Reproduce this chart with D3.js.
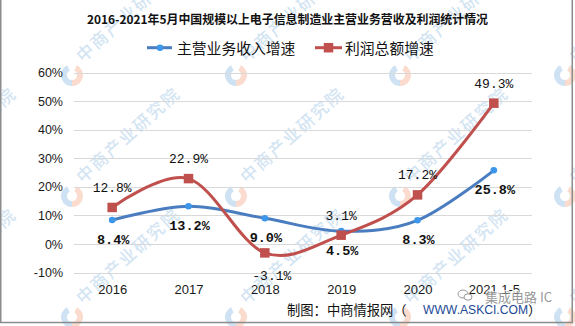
<!DOCTYPE html>
<html>
<head>
<meta charset="utf-8">
<script src="https://cdn.jsdelivr.net/npm/d3@7/dist/d3.min.js"></script>
<style>
  html, body { margin: 0; padding: 0; background: #fff; }
  svg { display: block; }
</style>
</head>
<body>
<svg id="chart" width="575" height="326"></svg>
<script>
// Years on the category axis
const categories = ["2016", "2017", "2018", "2019", "2020", "2021.1-5"];
// Growth of main business revenue (%)
const revenueGrowth = [8.4, 13.2, 9.0, 4.5, 8.3, 25.8];
// Growth of total profit (%)
const profitGrowth = [12.8, 22.9, -3.1, 3.1, 17.2, 49.3];
// Value-axis ticks (%)
const yTicks = [-10, 0, 10, 20, 30, 40, 50, 60];
// Series names
const seriesNames = ["主营业务收入增速", "利润总额增速"];

const W = 575, H = 326;
const svg = d3.select("#chart");
const BLUE_LINE = "#4a7dc0", BLUE_DOT = "#3c96ea", RED = "#c0504d";
const CJK = "'Noto Sans CJK SC', 'Noto Sans', sans-serif";
const MONO = "'Liberation Mono', 'DejaVu Sans Mono', monospace";

svg.append("rect").attr("width", W).attr("height", H).attr("fill", "#fff");

// ---- faint diagonal brand marks in the background ----
const wm = svg.append("g").attr("class", "brand-marks");
const wmX = [-92, 72, 236, 400, 565];
const wmY = [75, 196, 317];
wmX.forEach(x => wmY.forEach(y => {
  const g = wm.append("g").attr("transform", `translate(${x},${y})`).attr("opacity", 0.5);
  g.append("path")
    .attr("d", d3.arc()({ innerRadius: 5, outerRadius: 11, startAngle: Math.PI * 0.15, endAngle: Math.PI * 1.0 }))
    .attr("fill", "#f6b99c");
  g.append("path")
    .attr("d", d3.arc()({ innerRadius: 5, outerRadius: 11, startAngle: Math.PI * 1.0, endAngle: Math.PI * 1.85 }))
    .attr("fill", "#9fc6e8");
  g.append("text")
    .attr("transform", "translate(11,-12) rotate(-42)")
    .attr("font-family", CJK).attr("font-size", 17).attr("font-weight", 500)
    .attr("letter-spacing", 2)
    .attr("fill", "#a9cbe9")
    .text("中商产业研究院");
}));

// ---- scales ----
const x = d3.scalePoint().domain(categories).range([74, 532]).padding(0.5);
const y = d3.scaleLinear().domain([-10, 60]).range([272.6, 72.6]);

// grid lines
svg.append("g").selectAll("line").data(yTicks).join("line")
  .attr("x1", 74).attr("x2", 532)
  .attr("y1", d => Math.round(y(d)) + 0.5).attr("y2", d => Math.round(y(d)) + 0.5)
  .attr("stroke", "#d9d9d9").attr("stroke-width", 1);

// value axis labels
const yAxis = d3.axisLeft(y).tickValues(yTicks).tickFormat(d => d + "%").tickSize(0).tickPadding(0);
const yAxisG = svg.append("g").attr("transform", "translate(63,0)").call(yAxis);
yAxisG.select(".domain").remove();
yAxisG.selectAll("text")
  .attr("font-family", "'Liberation Sans', Arial, sans-serif").attr("font-size", 12.5)
  .attr("fill", "#1a1a1a");

// category axis labels
const xAxis = d3.axisBottom(x).tickSize(0).tickPadding(0);
const xAxisG = svg.append("g").attr("transform", "translate(0,284.5)").call(xAxis);
xAxisG.select(".domain").remove();
xAxisG.selectAll("text")
  .attr("font-family", "'Liberation Sans', Arial, sans-serif").attr("font-size", 13)
  .attr("fill", "#1a1a1a");

// ---- lines ----
const line = d3.line()
  .x((d, i) => x(categories[i]))
  .y(d => y(d))
  .curve(d3.curveCardinal.tension(0));

svg.append("path").datum(revenueGrowth).attr("d", line)
  .attr("fill", "none").attr("stroke", BLUE_LINE).attr("stroke-width", 3);
svg.append("path").datum(profitGrowth).attr("d", line)
  .attr("fill", "none").attr("stroke", RED).attr("stroke-width", 3);

// markers
svg.append("g").selectAll("circle").data(revenueGrowth).join("circle")
  .attr("cx", (d, i) => x(categories[i])).attr("cy", d => y(d))
  .attr("r", 3.3).attr("fill", BLUE_DOT);
const SQ = 9.5;
svg.append("g").selectAll("rect").data(profitGrowth).join("rect")
  .attr("x", (d, i) => x(categories[i]) - SQ / 2).attr("y", d => y(d) - SQ / 2)
  .attr("width", SQ).attr("height", SQ).attr("fill", RED);

// ---- data labels ----
const fmt = d => d.toFixed(1) + "%";
svg.append("g").selectAll("text").data(profitGrowth).join("text")
  .attr("x", (d, i) => x(categories[i]) + (d < 0 ? 7 : 0))
  .attr("y", d => y(d) + (d < 0 ? 23.5 : -19))
  .attr("text-anchor", "middle").attr("dominant-baseline", "central")
  .attr("font-family", MONO).attr("font-size", 13).attr("fill", "#111")
  .text(fmt);
svg.append("g").selectAll("text").data(revenueGrowth).join("text")
  .attr("x", (d, i) => x(categories[i]) + 1)
  .attr("y", d => y(d) + 20.3)
  .attr("text-anchor", "middle").attr("dominant-baseline", "central")
  .attr("font-family", MONO).attr("font-size", 13.5).attr("font-weight", 700).attr("fill", "#111")
  .text(fmt);

// ---- title ----
svg.append("text")
  .attr("x", 287.5).attr("y", 18.5)
  .attr("text-anchor", "middle").attr("dominant-baseline", "central")
  .attr("font-family", CJK).attr("font-size", 12).attr("font-weight", 700)
  .attr("textLength", 401).attr("lengthAdjust", "spacingAndGlyphs")
  .attr("fill", "#111")
  .text("2016-2021年5月中国规模以上电子信息制造业主营业务营收及利润统计情况");

// ---- legend ----
const legY = 47.7;
const leg = svg.append("g");
leg.append("line").attr("x1", 147).attr("x2", 172).attr("y1", legY).attr("y2", legY)
  .attr("stroke", BLUE_LINE).attr("stroke-width", 3);
leg.append("circle").attr("cx", 160).attr("cy", legY).attr("r", 3.3).attr("fill", BLUE_DOT);
leg.append("text").attr("x", 177).attr("y", legY).attr("dominant-baseline", "central")
  .attr("font-family", CJK).attr("font-size", 14.8).attr("fill", "#111")
  .text(seriesNames[0]);
leg.append("line").attr("x1", 315).attr("x2", 342).attr("y1", legY).attr("y2", legY)
  .attr("stroke", RED).attr("stroke-width", 3);
leg.append("rect").attr("x", 328.5 - SQ / 2).attr("y", legY - SQ / 2)
  .attr("width", SQ).attr("height", SQ).attr("fill", RED);
leg.append("text").attr("x", 345).attr("y", legY).attr("dominant-baseline", "central")
  .attr("font-family", CJK).attr("font-size", 14.8).attr("fill", "#111")
  .text(seriesNames[1]);

// ---- source line ----
const srcY = 309;
svg.append("text").attr("x", 287).attr("y", srcY).attr("dominant-baseline", "central")
  .attr("font-family", CJK).attr("font-size", 13.3).attr("fill", "#111")
  .text("制图：中商情报网（");
svg.append("text").attr("x", 423).attr("y", srcY).attr("dominant-baseline", "central")
  .attr("font-family", "'Liberation Sans', Arial, sans-serif").attr("font-size", 13.3)
  .attr("textLength", 105).attr("lengthAdjust", "spacingAndGlyphs")
  .attr("fill", "#1d4a96")
  .text("WWW.ASKCI.COM");
svg.append("text").attr("x", 528).attr("y", srcY).attr("dominant-baseline", "central")
  .attr("font-family", CJK).attr("font-size", 13.3).attr("fill", "#111")
  .text("）");

// ---- account tag, lower right ----
const tag = svg.append("g").attr("opacity", 0.8);
const ic = tag.append("g").attr("transform", "translate(465,295)")
  .attr("fill", "none").attr("stroke", "#808080").attr("stroke-width", 1);
ic.append("ellipse").attr("cx", -2).attr("cy", -1).attr("rx", 5).attr("ry", 4);
ic.append("ellipse").attr("cx", 3).attr("cy", 2).attr("rx", 4).attr("ry", 3.2).attr("fill", "#fff");
tag.append("text").attr("x", 485).attr("y", 296).attr("dominant-baseline", "central")
  .attr("font-family", CJK).attr("font-size", 13).attr("fill", "#808080")
  .attr("stroke", "#fff").attr("stroke-width", 2).attr("paint-order", "stroke")
  .text("集成电路 IC");

// ---- outer frame ----
svg.append("rect").attr("x", 0.75).attr("y", -2).attr("width", 571.5).attr("height", 324.5)
  .attr("fill", "none").attr("stroke", "#8c8c8c").attr("stroke-width", 1.5);
</script>
</body>
</html>
